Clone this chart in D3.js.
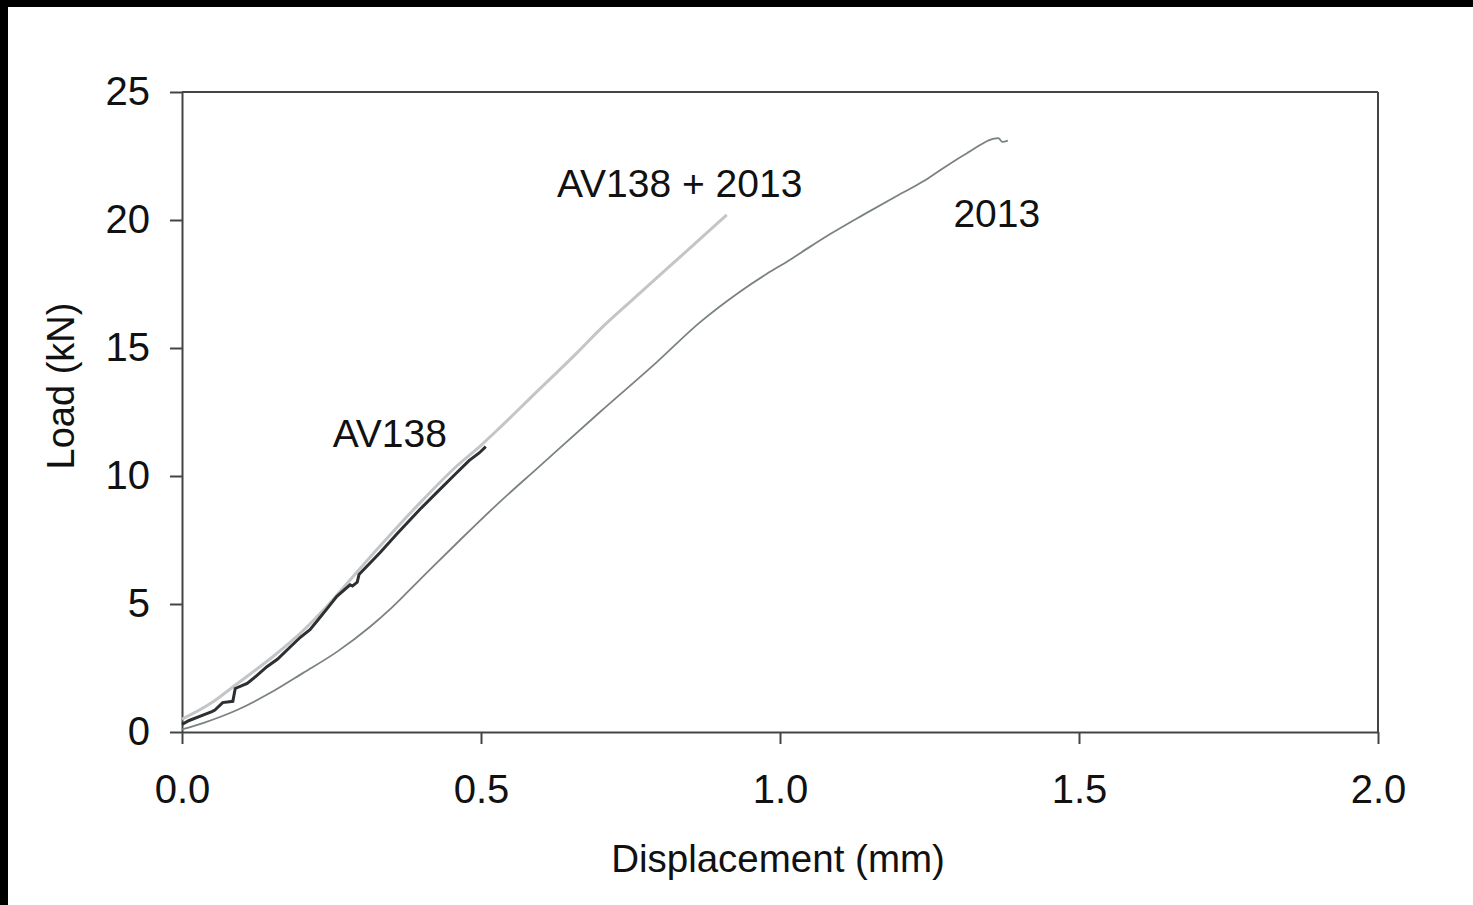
<!DOCTYPE html>
<html>
<head>
<meta charset="utf-8">
<script src="https://cdn.jsdelivr.net/npm/d3@7"></script>
<style>
  body { margin: 0; background: #fff; }
  svg { display: block; }
  text { font-family: 'Liberation Sans', Arial, sans-serif; fill: #111; }
</style>
</head>
<body>
<svg id="chart"></svg>
<script>
// displacement (mm) / load (kN)
const av138Disp = [0, 0.012, 0.035, 0.05, 0.055, 0.068, 0.085, 0.089, 0.109, 0.125, 0.142, 0.16, 0.18, 0.198, 0.214, 0.23, 0.242, 0.259, 0.281, 0.285, 0.293, 0.296, 0.331, 0.36, 0.398, 0.43, 0.453, 0.48, 0.497, 0.508]
const av138Load = [0.3, 0.45, 0.66, 0.8, 0.86, 1.15, 1.2, 1.7, 1.9, 2.2, 2.55, 2.85, 3.3, 3.7, 4.0, 4.45, 4.8, 5.3, 5.75, 5.7, 5.85, 6.15, 7.0, 7.75, 8.7, 9.45, 9.98, 10.6, 10.9, 11.15]

const mixDisp = [0, 0.05, 0.09, 0.147, 0.2, 0.242, 0.3, 0.4, 0.46, 0.5, 0.532, 0.587, 0.66, 0.7, 0.754, 0.811, 0.866, 0.911]
const mixLoad = [0.5, 1.15, 1.85, 2.85, 3.9, 4.9, 6.45, 9.0, 10.4, 11.2, 11.9, 13.15, 14.8, 15.75, 16.9, 18.1, 19.25, 20.2]

const c2013Disp = [0, 0.035, 0.092, 0.147, 0.202, 0.259, 0.314, 0.348, 0.37, 0.415, 0.465, 0.532, 0.594, 0.699, 0.794, 0.866, 0.933, 0.978, 1.017, 1.05, 1.084, 1.139, 1.196, 1.239, 1.256, 1.312, 1.365, 1.372, 1.381]
const c2013Load = [0.1, 0.35, 0.86, 1.52, 2.3, 3.13, 4.1, 4.8, 5.3, 6.35, 7.5, 9.0, 10.3, 12.5, 14.45, 16.0, 17.2, 17.9, 18.45, 18.95, 19.45, 20.2, 20.95, 21.5, 21.76, 22.6, 23.2, 23.05, 23.1]

const xTicks = [0, 0.5, 1.0, 1.5, 2.0]
const yTicks = [0, 5, 10, 15, 20, 25]

const seriesNames = ['2013', 'AV138 + 2013', 'AV138']
const labelAt = { '2013': [1.29, 19.73], 'AV138 + 2013': [0.627, 20.9], 'AV138': [0.252, 11.13] }

const width = 1473
const height = 905
const plot = { left: 182, right: 1378, top: 92, bottom: 732 }

const svg = d3.select('#chart').attr('width', width).attr('height', height)

svg.append('rect').attr('width', width).attr('height', height).attr('fill', '#fff')
// black strip at top and left edge of the scan
svg.append('rect').attr('x', 0).attr('y', 0).attr('width', width).attr('height', 7).attr('fill', '#000')
svg.append('rect').attr('x', 0).attr('y', 0).attr('width', 8).attr('height', height).attr('fill', '#000')

const x = d3.scaleLinear().domain([0, 2]).range([plot.left, plot.right])
const y = d3.scaleLinear().domain([0, 25]).range([plot.bottom, plot.top])

// frame top and right
svg.append('line')
    .attr('x1', x(0)).attr('x2', x(2)).attr('y1', y(25)).attr('y2', y(25))
    .attr('stroke', '#444').attr('stroke-width', 2)
svg.append('line')
    .attr('x1', x(2)).attr('x2', x(2)).attr('y1', y(0)).attr('y2', y(25))
    .attr('stroke', '#444').attr('stroke-width', 2)

const xAxis = svg.append('g')
    .attr('transform', `translate(0,${plot.bottom})`)
    .call(d3.axisBottom(x).tickValues(xTicks).tickFormat(d3.format('.1f'))
        .tickSize(12).tickSizeOuter(0).tickPadding(31))
const yAxis = svg.append('g')
    .attr('transform', `translate(${plot.left},0)`)
    .call(d3.axisLeft(y).tickValues(yTicks).tickSize(12).tickSizeOuter(0).tickPadding(20))

for (const ax of [xAxis, yAxis]) {
    ax.select('.domain').attr('stroke', '#444').attr('stroke-width', 2)
    ax.selectAll('.tick line').attr('stroke', '#444').attr('stroke-width', 2)
    ax.selectAll('.tick text')
        .style('font-family', "'Liberation Sans', Arial, sans-serif")
        .style('font-size', '40px').attr('fill', '#111')
}

const line = d3.line()
    .x((d) => x(d[0]))
    .y((d) => y(d[1]))
const smooth = d3.line()
    .curve(d3.curveMonotoneX)
    .x((d) => x(d[0]))
    .y((d) => y(d[1]))

const toPts = (xs, ys) => xs.map((v, i) => [v, ys[i]])

svg.append('path')
    .datum(toPts(c2013Disp, c2013Load))
    .attr('fill', 'none').attr('stroke', '#7b8282').attr('stroke-width', 1.8)
    .attr('d', smooth)

svg.append('path')
    .datum(toPts(mixDisp, mixLoad))
    .attr('fill', 'none').attr('stroke', '#c3c5c7').attr('stroke-width', 3)
    .attr('d', smooth)

svg.append('path')
    .datum(toPts(av138Disp, av138Load))
    .attr('fill', 'none').attr('stroke', '#2c3033').attr('stroke-width', 3)
    .attr('d', line)

seriesNames.forEach((name) => {
    svg.append('text')
        .attr('x', x(labelAt[name][0]))
        .attr('y', y(labelAt[name][1]))
        .style('font-size', '39px')
        .text(name)
})

svg.append('text')
    .attr('x', (plot.left + plot.right) / 2 - 2)
    .attr('y', 872)
    .attr('text-anchor', 'middle')
    .style('font-size', '38.5px')
    .text('Displacement (mm)')

svg.append('text')
    .attr('transform', `translate(74,386) rotate(-90)`)
    .attr('text-anchor', 'middle')
    .style('font-size', '38px')
    .text('Load (kN)')
</script>
</body>
</html>
